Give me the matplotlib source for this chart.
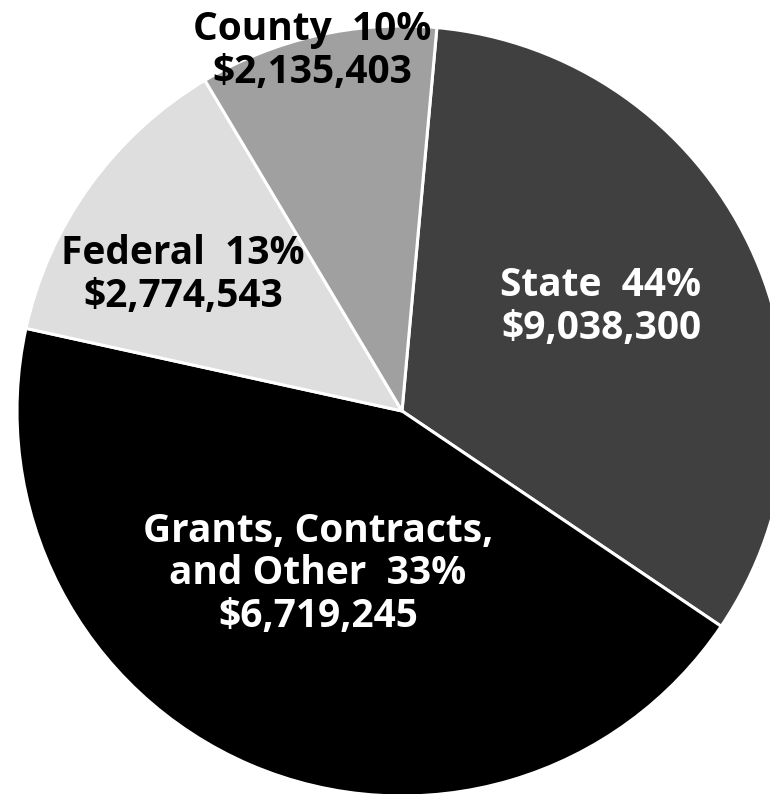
import matplotlib
matplotlib.use("Agg")
import matplotlib.pyplot as plt

# Data (wedge shares as drawn in the reference; text as printed)
categories = ["State", "Grants, Contracts,\nand Other", "Federal", "County"]
wedge_shares = [33, 44, 13, 10]
label_pcts = ["44%", "33%", "13%", "10%"]
label_amounts = ["$9,038,300", "$6,719,245", "$2,774,543", "$2,135,403"]

colors = ["#404040", "#000000", "#dedede", "#a0a0a0"]
text_colors = ["white", "white", "black", "black"]

plt.rcParams['font.family'] = ['Open Sans', 'DejaVu Sans']

W, H = 770, 794
fig = plt.figure(figsize=(W / 100, H / 100), dpi=100)
ax = fig.add_axes([0, 0, 1, 1])

cx, cy, r = 402, 411, 385
ax.pie(wedge_shares, colors=colors, startangle=84.8, counterclock=False,
       radius=1.0, center=(0, 0),
       wedgeprops=dict(edgecolor="white", linewidth=2.2))

ax.set_xlim((0 - cx) / r, (W - cx) / r)
ax.set_ylim((cy - H) / r, cy / r)
ax.set_aspect('auto')
ax.axis('off')

# label block centers in pixel layout
label_pos_px = [(601, 307), (318, 574), (183, 275), (312, 51)]

for name, pct, amt, (px, py), tc in zip(categories, label_pcts, label_amounts,
                                         label_pos_px, text_colors):
    txt = f"{name}  {pct}\n{amt}"
    ax.text((px - cx) / r, (cy - py) / r, txt, ha='center', va='center',
            color=tc, fontsize=28, fontweight='bold', linespacing=1.12)

fig.savefig("out.png", dpi=100)
